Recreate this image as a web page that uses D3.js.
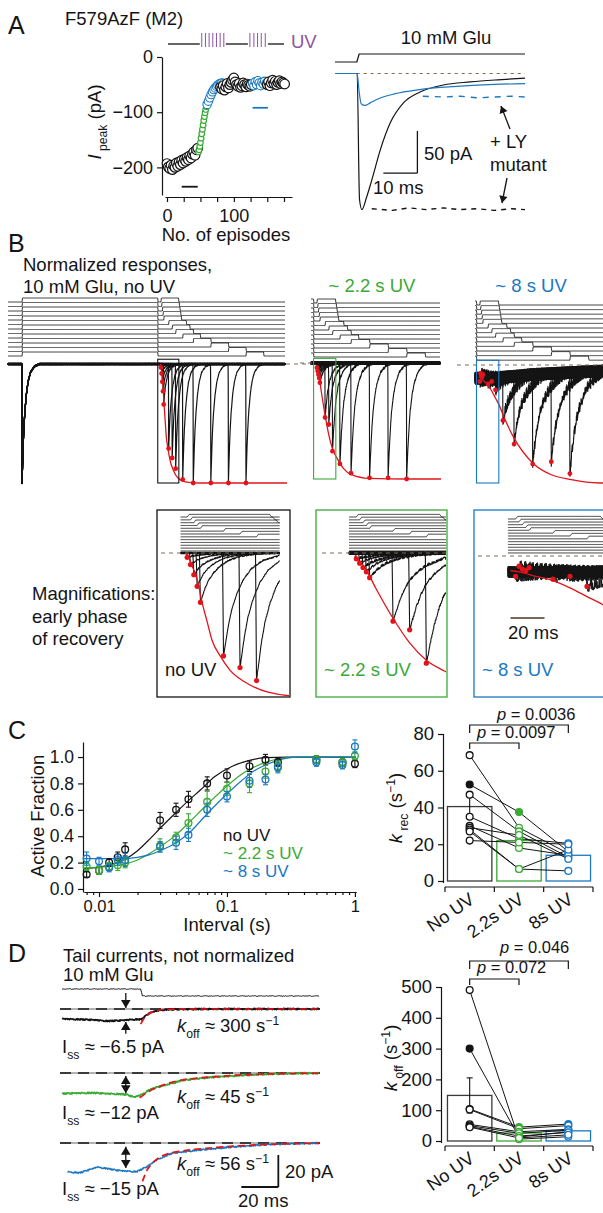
<!DOCTYPE html>
<html>
<head>
<meta charset="utf-8">
<script src="https://cdn.jsdelivr.net/npm/d3@7"></script>
<style>
  body { margin: 0; background: #fff; }
  svg { display: block; }
</style>
</head>
<body>
<svg id="fig" width="603" height="1213"></svg>
<script>
// colours
const INK = '#141414', GREEN = '#3aa935', BLUE = '#1a78c2', RED = '#e2141b',
      PURPLE = '#8e53a6', DASHC = '#7c6a5c', FONT = '"Liberation Sans", Arial, sans-serif';

// ---------- panel A, peak current per episode ----------
const blackPre  = [-193,-199,-202,-196,-204,-197,-200,-192,-198,-190,-195,-187,-192,-185,-189,-182,-186,-179,-183,-176,-172,-178,-168,-165]; // ep 0..46, step 2
const greenUV1  = [-172,-168,-162,-155,-147,-139,-131,-123,-115,-108,-101,-95,-90,-86,-82]; // ep 47..61
const blueUV1   = [-86,-80,-74,-68,-63,-59,-56,-53,-51,-49,-48,-47,-48]; // ep 60..84, step 2
const blackMid  = [-55,-58,-52,-60,-54,-48,-56,-50,-46,-42,-38,-45,-50,-53,-48,-55,-52,-47,-50,-54,-49,-51,-53,-50]; // ep 80..126
const blueUV2   = [-48,-52,-45,-50,-43,-47,-52,-46,-49,-44,-48,-51]; // ep 128..150
const blackPost = [-50,-45,-52,-47,-42,-48,-44,-50,-46,-43,-48,-45,-47,-49]; // ep 150..176
const uvOffSegments = [[1.5, 49], [88, 121], [151, 175]];
const uvTicks = [52, 57.5, 63, 68.5, 74, 79.5, 85, 124, 130, 135.5, 141, 147];
const peakTicks = [0, -100, -200];
const episodeTicks = [0, 25, 50, 75, 100, 125, 150, 175];

// panel A, example currents (ms, pA)
const traceNoUV  = [[-6.8,0],[-0.3,0],[0.4,-150],[1.1,-162],[2.5,-147],[4,-127],[6.5,-91],[9.4,-59],[13.3,-35],[18.2,-22],[25,-13.7],[33,-10],[41,-7.5],[49,-5.5]];
const traceUV    = [[-6.8,0],[-0.3,0],[0.3,-22],[0.9,-36],[2,-38],[3.5,-35],[6,-30],[10,-25],[15,-21],[20,-18],[30,-15],[40,-13],[49,-12]];
const traceUVLY  = [[19,-27],[25,-28],[30,-27],[35,-29],[40,-28],[45,-27],[49,-28]];
const traceLY    = [[4,-161],[10,-163],[15,-160],[20,-162],[25,-160],[30,-162],[35,-161],[40,-163],[45,-161],[49,-162]];
const gluStepA   = [[-6.8,0],[-0.4,0],[0.3,1],[49,1]];

// ---------- panel B, paired-pulse recovery ----------
const intervalsMs = [8, 10, 12, 14, 16, 30, 40, 50, 70, 100, 150, 200, 250];
const peakNoUV = [0.03, 0.08, 0.15, 0.23, 0.34, 0.71, 0.79, 0.88, 0.97, 1.0, 1.0, 1.0, 1.0];
const peakUV22 = [0.04, 0.07, 0.10, 0.13, 0.17, 0.47, 0.53, 0.76, 0.87, 0.95, 0.99, 0.99, 1.0];
const peakUV8  = [0.14, 0.07, 0.09, 0.10, 0.08, 0.16, 0.14, 0.21, 0.47, 0.67, 0.84, 0.82, 0.92];
const fitNoUV = [[7,0],[8.5,0.02],[11,0.09],[14,0.18],[17,0.34],[20,0.47],[23,0.6],[28,0.71],[34,0.81],[43,0.89],[57,0.96],[77,0.99],[120,1],[400,1]];
const fitUV22 = [[7,0.02],[10,0.06],[14,0.12],[20,0.25],[30,0.45],[40,0.62],[50,0.74],[62,0.82],[80,0.91],[100,0.96],[150,0.995],[250,1],[400,1]];
const fitUV8  = [[5,0.1],[10,0.11],[20,0.14],[30,0.17],[40,0.22],[50,0.28],[60,0.34],[70,0.42],[100,0.62],[150,0.83],[200,0.93],[250,0.97],[330,1],[400,1]];
const decayNoUV = [[0,1],[1.5,0.85],[3,0.7],[5,0.55],[8,0.4],[12,0.26],[17,0.15],[24,0.07],[35,0.02],[50,0]];
const decayUV22 = [[0,1],[2,0.85],[4,0.7],[7,0.53],[10,0.4],[15,0.27],[20,0.18],[30,0.08],[45,0.02],[60,0]];
const decayUV8  = [[0,1],[4,0.85],[8,0.7],[14,0.55],[20,0.43],[30,0.3],[45,0.17],[65,0.07],[90,0]];
const ssFlat = [[-500,0],[500,0]];
const ssUV8  = [[-500,0.12],[50,0.11],[150,0.08],[340,0.05]];
const noisePattern = [0.3,-0.8,0.5,0.1,-0.4,0.9,-0.2,-0.7,0.6,0.2,-0.9,0.4,0.0,-0.5,0.8,-0.3,0.7,-0.6,0.1,0.5,
                      -0.1,-0.8,0.3,0.9,-0.4,0.2,-0.7,0.6,-0.2,0.4,-0.9,0.1,0.7,-0.5,0.3,-0.1,0.8,-0.6,0.2,-0.3];

// ---------- panel C ----------
const intervalsS = [0.008,0.01,0.012,0.014,0.016,0.03,0.04,0.05,0.07,0.1,0.15,0.2,0.25,0.5,0.8,1.0];
const afNoUV = [0.11,0.14,0.20,0.24,0.30,0.52,0.60,0.68,0.80,0.86,0.93,0.98,0.96,0.98,0.96,0.95];
const afNoUVErr = [0.02,0.03,0.03,0.04,0.05,0.06,0.05,0.06,0.05,0.05,0.04,0.04,0.03,0.03,0.03,0.03];
const afUV22 = [0.17,0.14,0.17,0.18,0.20,0.33,0.39,0.50,0.66,0.76,0.80,0.89,0.93,0.98,0.96,1.01];
const afUV22Err = [0.03,0.03,0.03,0.04,0.04,0.05,0.04,0.07,0.08,0.05,0.07,0.05,0.04,0.03,0.03,0.03];
const afUV8 = [0.23,0.21,0.16,0.22,0.22,0.32,0.35,0.41,0.60,0.70,0.82,0.83,0.92,0.96,0.94,1.08];
const afUV8Err = [0.05,0.03,0.03,0.04,0.05,0.04,0.05,0.05,0.05,0.04,0.05,0.04,0.04,0.03,0.03,0.05];
const fitCNoUV = [[0.0076,0.155],[0.01,0.165],[0.013,0.19],[0.016,0.225],[0.02,0.29],[0.025,0.38],[0.03,0.46],[0.04,0.58],[0.05,0.67],[0.062,0.75],[0.08,0.85],[0.11,0.93],[0.15,0.975],[0.2,0.995],[0.3,1],[1.02,1]];
const fitCUV22 = [[0.0076,0.16],[0.01,0.165],[0.013,0.175],[0.016,0.19],[0.02,0.22],[0.025,0.27],[0.03,0.32],[0.04,0.41],[0.05,0.5],[0.07,0.64],[0.1,0.78],[0.13,0.87],[0.16,0.92],[0.2,0.96],[0.25,0.985],[0.35,1],[1.02,1]];
const fitCUV8 = [[0.0076,0.23],[0.015,0.23],[0.02,0.24],[0.025,0.26],[0.03,0.29],[0.04,0.35],[0.05,0.42],[0.07,0.57],[0.1,0.72],[0.13,0.82],[0.16,0.89],[0.2,0.94],[0.25,0.975],[0.35,1],[1.02,1]];
const afTicks = [0, 0.2, 0.4, 0.6, 0.8, 1.0];

const conditions = ['No UV', '2.2s UV', '8s UV'];
const krecMean = [40.5, 22, 14];
const krecErr  = [5.5, 3.5, 2];
const krecNoUV = [68.5, 52.5, 47, 35, 30, 29, 28, 27, 22];
const krecUV22 = [29, 37.5, 27, 23, 18, 25, 6.5, 6.5, 21];
const krecUV8  = [15, 16, 13, 20.5, 14, 12, 5.5, 17, 20];
const krecFilled = [1, 1, -1];
const krecTicks = [0, 20, 40, 60, 80];

// ---------- panel D ----------
const gluStepD = [[-43,1],[-0.3,1],[0.3,0],[96,0]];
const tailNoUV = [[-43,-6],[-35,-6.5],[-25,-6.8],[-18,-7.6],[-12,-7.2],[-6,-6.6],[0,-6.5],[2,-4.5],[4,-2.8],[6,-1.7],[9,-0.9],[13,-0.4],[20,-0.15],[40,0],[96,0]];
const tailUV22 = [[-43,-13],[-35,-12.5],[-25,-12.5],[-15,-13],[-8,-13.5],[-4,-15],[0,-13.5],[4,-10.8],[8,-9],[13,-7.5],[18,-6],[22,-4.6],[30,-3.5],[40,-2.5],[55,-1.4],[68,-0.7],[80,-0.3],[96,0]];
const tailUV8  = [[-40,-18],[-33.5,-18.7],[-24,-15],[-13.5,-17],[-2.7,-18],[2.7,-15],[8,-10.6],[16.8,-6.3],[31,-4.4],[49,-2.5],[70,-0.8],[96,0]];
const tailFitNoUV = [[-0.5,-9.5],[0,-8.5],[2,-5],[4,-3],[6,-1.8],[8,-1],[12,-0.3],[20,0],[96,0]];
const tailFitUV22 = [[-1,-15.5],[4,-11.5],[8,-9.2],[13,-7],[18,-5.4],[22,-4.4],[30,-3.2],[40,-2.3],[55,-1.2],[70,-0.6],[96,-0.2]];
const tailFitUV8  = [[0.5,-24],[3,-17],[6,-12.5],[9,-9.5],[13,-7.2],[17,-6],[25,-4.5],[35,-3.3],[50,-2],[70,-0.8],[96,-0.2]];

const koffMean = [148, 26, 33];
const koffErr  = [57, 7, 6];
const koffNoUV = [490, 300, 104, 102, 54, 50, 47, 45];
const koffUV22 = [6, 13, 45, 40, 30, 25, 16, 10];
const koffUV8  = [14, 30, 55, 50, 38, 35, 28, 20];
const koffFilled = [1, 2, 2];
const koffTicks = [0, 100, 200, 300, 400, 500];

// ---------- helpers ----------
const svg = d3.select('#fig').attr('font-family', FONT);
const interp = pts => d3.scaleLinear().domain(pts.map(p => p[0])).range(pts.map(p => p[1])).clamp(true);
const seq = (start, step, vals) => vals.map((v, i) => [start + i * step, v]);
const TXT = 18.5;

function label(g, x, y, parts, o = {}) {
  const size = o.size || TXT;
  const t = g.append('text').attr('x', x).attr('y', y)
    .attr('font-size', size).attr('fill', o.color || INK)
    .attr('text-anchor', o.anchor || 'start');
  if (o.rotate) t.attr('transform', `rotate(${o.rotate},${x},${y})`);
  if (typeof parts === 'string') parts = [{t: parts}];
  let shift = 0;
  parts.forEach(p => {
    const off = p.sub ? size * 0.3 : p.sup ? -size * 0.4 : 0;
    t.append('tspan').text(p.t)
      .attr('font-size', (p.sub || p.sup) ? size * 0.66 : size)
      .attr('font-style', p.i ? 'italic' : null)
      .attr('dy', off - shift);
    shift = off;
  });
  return t;
}

function seg(g, x1, y1, x2, y2, color, w, dash) {
  return g.append('line').attr('x1', x1).attr('y1', y1).attr('x2', x2).attr('y2', y2)
    .attr('stroke', color || INK).attr('stroke-width', w || 1.2)
    .attr('stroke-dasharray', dash || null);
}

function arrowHead(g, x, y, ang, s) {
  const w = s * 0.6;
  const bx = x - s * Math.cos(ang), by = y - s * Math.sin(ang);
  const px = -Math.sin(ang) * w, py = Math.cos(ang) * w;
  g.append('path').attr('d', `M${x},${y}L${bx + px},${by + py}L${bx - px},${by - py}Z`).attr('fill', INK);
}
function arrow(g, x1, y1, x2, y2, both, s) {
  seg(g, x1, y1, x2, y2, INK, 1.3);
  const a = Math.atan2(y2 - y1, x2 - x1);
  arrowHead(g, x2, y2, a, s || 7);
  if (both) arrowHead(g, x1, y1, a + Math.PI, s || 7);
}

function styleAxis(ax, size) {
  ax.attr('font-family', FONT).attr('font-size', size || 18);
  ax.selectAll('path, line').attr('stroke', INK).attr('stroke-width', 1.2);
  ax.selectAll('text').attr('fill', INK);
  return ax;
}

function path(g, pts, x, y, color, w, curve) {
  return g.append('path').datum(pts)
    .attr('d', d3.line().x(d => x(d[0])).y(d => y(d[1])).curve(curve || d3.curveLinear))
    .attr('fill', 'none').attr('stroke', color).attr('stroke-width', w || 1.2)
    .attr('stroke-linejoin', 'round');
}

// ================= PANEL A =================
const gA = svg.append('g');
label(svg, 8, 34, 'A', {size: 25});
label(gA, 65, 25, 'F579AzF (M2)');

const epX = d3.scaleLinear().domain([-3, 187]).range([165, 292]);
const pkY = d3.scaleLinear().domain([0, -250]).range([57, 195]);

uvOffSegments.forEach(s => seg(gA, epX(s[0]), 44, epX(s[1]), 44, INK, 1.3));
gA.append('g').selectAll('line').data(uvTicks).join('line')
  .attr('x1', d => epX(d)).attr('x2', d => epX(d)).attr('y1', 33).attr('y2', 47)
  .attr('stroke', PURPLE).attr('stroke-width', 1);
label(gA, 291, 48, 'UV', {color: PURPLE});

styleAxis(gA.append('g').attr('transform', 'translate(162,0)')
  .call(d3.axisLeft(pkY).tickValues(peakTicks).tickSize(5).tickSizeOuter(0).tickPadding(4)
    .tickFormat(d => d === 0 ? '0' : '\u2212' + Math.abs(d))));
styleAxis(gA.append('g').attr('transform', 'translate(0,197)')
  .call(d3.axisBottom(epX).tickValues(episodeTicks).tickSize(5).tickSizeOuter(0).tickPadding(7)
    .tickFormat(d => d % 100 === 0 ? d : '')));
label(gA, 226, 241, 'No. of episodes', {anchor: 'middle'});
label(gA, 101, 122, [{t: 'I', i: true}, {t: ' peak', sub: true}, {t: ' (pA)'}], {anchor: 'middle', rotate: -90});

function epCircles(data, color, r, w) {
  gA.append('g').selectAll('circle').data(data).join('circle')
    .attr('cx', d => epX(d[0])).attr('cy', d => pkY(d[1])).attr('r', r)
    .attr('fill', '#fff').attr('stroke', color).attr('stroke-width', w);
}
epCircles(seq(0, 2, blackPre), INK, 4.8, 1.2);
epCircles(seq(47, 1, greenUV1), GREEN, 2.8, 1.2);
epCircles(seq(60, 2, blueUV1), BLUE, 4.2, 1.1);
epCircles(seq(80, 2, blackMid), INK, 4.8, 1.2);
epCircles(seq(128, 2, blueUV2), BLUE, 4.2, 1.1);
epCircles(seq(150, 2, blackPost), INK, 4.8, 1.2);
seg(gA, epX(22), pkY(-235), epX(46), pkY(-235), INK, 1.8);
seg(gA, epX(128), pkY(-92), epX(151), pkY(-92), BLUE, 1.8);

// example currents
const tA = d3.scaleLinear().domain([-6.8, 49]).range([335, 525]);
const iA = d3.scaleLinear().domain([0, -100]).range([73.5, 157.5]);
const gluA = d3.scaleLinear().domain([0, 1]).range([62, 54]);
path(gA, gluStepA, tA, gluA, INK, 1.2);
label(gA, 446, 44, '10 mM Glu', {anchor: 'middle'});
seg(gA, tA(-6.6), iA(0), tA(49), iA(0), DASHC, 1.2, '3,4');
path(gA, traceNoUV, tA, iA, INK, 1.2, d3.curveMonotoneX);
path(gA, traceUV, tA, iA, BLUE, 1.2, d3.curveMonotoneX);
path(gA, traceUVLY, tA, iA, BLUE, 1.4).attr('stroke-dasharray', '6,6');
path(gA, traceLY, tA, iA, INK, 1.4).attr('stroke-dasharray', '5,5');
// scale bar 10 ms / 50 pA
seg(gA, tA(17.4), iA(-68.5), tA(17.4), iA(-118.5), INK, 1.3);
seg(gA, tA(7.4), iA(-118.5), tA(17.4), iA(-118.5), INK, 1.3);
label(gA, 424, 160, '50 pA');
label(gA, 373, 194, '10 ms');
label(gA, 490, 148, '+ LY');
label(gA, 490, 171, 'mutant');
arrow(gA, 510, 129, 501, 106, false, 7);
arrow(gA, 507, 178, 502, 203, false, 7);

// ================= PANEL B =================
const gB = svg.append('g');
label(svg, 8, 252, 'B', {size: 25});
label(gB, 23, 271, 'Normalized responses,');
label(gB, 23, 293, '10 mM Glu, no UV');
label(gB, 372, 292, '~ 2.2 s UV', {anchor: 'middle', color: GREEN});
label(gB, 531, 292, '~ 8 s UV', {anchor: 'middle', color: BLUE});

const PULSE_MS = 50, FIRST_ON = -387;
const bSets = [
  {peaks: peakNoUV, fitPts: fitNoUV, decay: interp(decayNoUV), ss: interp(ssFlat), noise: 0.006},
  {peaks: peakUV22, fitPts: fitUV22, decay: interp(decayUV22), ss: interp(ssFlat), noise: 0.012},
  {peaks: peakUV8,  fitPts: fitUV8,  decay: interp(decayUV8),  ss: interp(ssUV8),  noise: 0.055}
];

function traceValue(s, j, t) {
  const base = s.ss(t);
  let v = base;
  [[FIRST_ON, 1], [intervalsMs[j], s.peaks[j]]].forEach(([on, pk]) => {
    const d = t - on;
    if (d >= -0.6 && d < 0) v += (pk - base) * (d + 0.6) / 0.6;
    else if (d >= 0) v += (pk - base) * s.decay(d);
  });
  return v;
}
function makeTrace(s, j, t0, t1, dt, noiseAmp) {
  const pts = [];
  let k = 0;
  for (let t = t0; t <= t1 + 1e-9; t += dt, k++) {
    const n = noisePattern[(k * 3 + j * 11 + (k >> 4)) % noisePattern.length];
    pts.push([t, traceValue(s, j, t) + noiseAmp * n]);
  }
  return pts;
}
function cmdLevel(j, t) {
  const ramp = 1.2;
  const on = (a, b) => Math.max(0, Math.min(1, (t - a) / ramp)) - Math.max(0, Math.min(1, (t - b) / ramp));
  return on(FIRST_ON, -ramp) + on(intervalsMs[j], intervalsMs[j] + PULSE_MS);
}

function drawRecovery(g, s, cfg) {
  const x = cfg.x, y = cfg.y;
  const clipId = 'clip' + cfg.id;
  g.append('clipPath').attr('id', clipId).append('rect')
    .attr('x', cfg.clip[0]).attr('y', cfg.clip[1]).attr('width', cfg.clip[2]).attr('height', cfg.clip[3]);
  const inner = g.append('g').attr('clip-path', `url(#${clipId})`);
  // command steps
  intervalsMs.forEach((iv, j) => {
    const pts = [];
    for (let t = cfg.t0; t <= cfg.t1 + 1e-9; t += cfg.stepDt) pts.push([t, cmdLevel(j, t)]);
    const yy = d3.scaleLinear().domain([0, 1]).range([cfg.stepTop + j * cfg.stepGap, cfg.stepTop + j * cfg.stepGap - cfg.stepH]);
    path(inner, pts, x, yy, INK, 0.9);
  });
  // baseline
  seg(g, cfg.dash[0], y(0), cfg.dash[1], y(0), DASHC, 1.2, '4,4');
  // traces
  intervalsMs.forEach((iv, j) => {
    path(inner, makeTrace(s, j, cfg.t0, cfg.t1, cfg.dt, s.noise * cfg.noiseGain), x, y, INK, cfg.w || 1);
  });
  // fit and peaks
  path(inner, s.fitPts.filter(d => d[0] >= cfg.fit0), x, y, RED, 1.3, d3.curveMonotoneX);
  inner.append('g').selectAll('circle')
    .data(intervalsMs.map((iv, j) => [iv, s.peaks[j]]).filter(d => d[0] <= cfg.t1))
    .join('circle').attr('cx', d => x(d[0])).attr('cy', d => y(d[1])).attr('r', cfg.dotR).attr('fill', RED);
}

const bTop = [
  {id: 't0', x: d3.scaleLinear().domain([-427, 361]).range([8, 285]), y: d3.scaleLinear().domain([0, 1]).range([364, 483]),
   t0: -427, t1: 361, dt: 0.5, stepDt: 0.5, stepTop: 302, stepGap: 4.5, stepH: 4, clip: [6, 296, 281, 192],
   dash: [286, 314], fit0: 7, dotR: 2.4, noiseGain: 1, w: 1.2, box: INK},
  {id: 't1', x: d3.scaleLinear().domain([-8, 340]).range([311, 440]), y: d3.scaleLinear().domain([0, 1]).range([363, 479]),
   t0: -8, t1: 340, dt: 0.5, stepDt: 0.5, stepTop: 303, stepGap: 4.5, stepH: 4, clip: [310, 296, 131, 192],
   dash: [300, 312], fit0: 7, dotR: 2.4, noiseGain: 1, w: 1.1, box: GREEN},
  {id: 't2', x: d3.scaleLinear().domain([-5, 339]).range([475, 603]), y: d3.scaleLinear().domain([0, 1]).range([365, 483]),
   t0: -5, t1: 339, dt: 0.5, stepDt: 0.5, stepTop: 305, stepGap: 4.6, stepH: 4, clip: [474, 296, 130, 192],
   dash: [457, 603], fit0: 5, dotR: 2.4, noiseGain: 1, w: 1.1, box: BLUE}
];
const MAG_WINDOW = [-1, 59];
bTop.forEach((cfg, i) => {
  drawRecovery(gB, bSets[i], cfg);
  gB.append('rect').attr('x', cfg.x(MAG_WINDOW[0])).attr('y', cfg.y(-0.04))
    .attr('width', cfg.x(MAG_WINDOW[1]) - cfg.x(MAG_WINDOW[0])).attr('height', cfg.y(1.0) - cfg.y(-0.04))
    .attr('fill', 'none').attr('stroke', cfg.box).attr('stroke-width', 1.1);
});

// magnifications
label(gB, 32, 600, 'Magnifications:');
label(gB, 32, 623, 'early phase');
label(gB, 32, 645, 'of recovery');
const bMag = [
  {id: 'm0', x: d3.scaleLinear().domain([0, 60]).range([174, 273]), y: d3.scaleLinear().domain([0, 1]).range([553, 698]),
   t0: 4, t1: 64, dt: 0.2, stepDt: 0.2, stepTop: 517, stepGap: 2.83, stepH: 2.6, clip: [158, 511, 131, 185],
   dash: [161, 280], fit0: 7, dotR: 2.6, noiseGain: 0.8, w: 1.1, box: [157, 510, 133, 187], color: INK, text: 'no UV'},
  {id: 'm1', x: d3.scaleLinear().domain([0, 60]).range([343, 443]), y: d3.scaleLinear().domain([0, 1]).range([553, 698]),
   t0: 3.6, t1: 62, dt: 0.2, stepDt: 0.2, stepTop: 517, stepGap: 2.83, stepH: 2.6, clip: [317, 511, 129, 185],
   dash: [322, 446], fit0: 7, dotR: 2.6, noiseGain: 0.8, w: 1.1, box: [316, 510, 131, 187], color: GREEN, text: '~ 2.2 s UV'},
  {id: 'm2', x: d3.scaleLinear().domain([0, 60]).range([502, 604]), y: d3.scaleLinear().domain([0, 1]).range([556, 701]),
   t0: 3.5, t1: 61, dt: 0.2, stepDt: 0.2, stepTop: 519, stepGap: 2.83, stepH: 2.6, clip: [475, 511, 130, 185],
   dash: [478, 603], fit0: 5, dotR: 2.6, noiseGain: 0.8, w: 1, box: [474, 510, 140, 187], color: BLUE, text: '~ 8 s UV'}
];
bMag.forEach((cfg, i) => {
  drawRecovery(gB, bSets[i], cfg);
  gB.append('rect').attr('x', cfg.box[0]).attr('y', cfg.box[1]).attr('width', cfg.box[2]).attr('height', cfg.box[3])
    .attr('fill', 'none').attr('stroke', cfg.color).attr('stroke-width', 1.3);
  label(gB, cfg.box[0] + 8, 676, cfg.text, {color: cfg.color});
});
const m2 = bMag[2];
seg(gB, m2.x(5), 618, m2.x(25), 618, '#4a3527', 1.6);
label(gB, 508, 639, '20 ms');

// ================= PANEL C =================
const gC = svg.append('g');
label(svg, 8, 739, 'C', {size: 25});
const cX = d3.scaleLog().domain([0.00763, 1.02]).range([84, 356]);
const cY = d3.scaleLinear().domain([-0.023, 1.114]).range([892, 742]);
styleAxis(gC.append('g').attr('transform', 'translate(83,0)')
  .call(d3.axisLeft(cY).tickValues(afTicks).tickSize(5).tickSizeOuter(0).tickPadding(4).tickFormat(d3.format('.1f'))), 17.5);
const minorTicks = [0.008, 0.009, 0.02, 0.03, 0.04, 0.05, 0.06, 0.07, 0.08, 0.09, 0.2, 0.3, 0.4, 0.5, 0.6, 0.7, 0.8, 0.9];
styleAxis(gC.append('g').attr('transform', 'translate(0,892)')
  .call(d3.axisBottom(cX).tickValues(minorTicks).tickSize(3).tickSizeOuter(0).tickFormat('')));
styleAxis(gC.append('g').attr('transform', 'translate(0,892)')
  .call(d3.axisBottom(cX).tickValues([0.01, 0.1, 1]).tickSize(5).tickSizeOuter(0).tickPadding(3)
    .tickFormat(d => d === 1 ? '1' : String(d))), 16.5);
label(gC, 227, 931, 'Interval (s)', {anchor: 'middle'});
label(gC, 44, 816, 'Active Fraction', {anchor: 'middle', rotate: -90});

[[fitCNoUV, INK], [fitCUV22, GREEN], [fitCUV8, BLUE]].forEach(([pts, col]) =>
  path(gC, pts, cX, cY, col, 1.2, d3.curveMonotoneX));
[[afNoUV, afNoUVErr, INK], [afUV22, afUV22Err, GREEN], [afUV8, afUV8Err, BLUE]].forEach(([vals, errs, col]) => {
  const g = gC.append('g');
  intervalsS.forEach((s, i) => {
    const xx = cX(s);
    seg(g, xx, cY(vals[i] - errs[i]), xx, cY(vals[i] + errs[i]), col, 1.1);
    seg(g, xx - 2.5, cY(vals[i] + errs[i]), xx + 2.5, cY(vals[i] + errs[i]), col, 1.1);
    seg(g, xx - 2.5, cY(vals[i] - errs[i]), xx + 2.5, cY(vals[i] - errs[i]), col, 1.1);
  });
  g.selectAll('circle').data(vals).join('circle')
    .attr('cx', (d, i) => cX(intervalsS[i])).attr('cy', d => cY(d)).attr('r', 3.4)
    .attr('fill', 'none').attr('stroke', col).attr('stroke-width', 1.3);
});
label(gC, 223, 841, 'no UV', {size: 17});
label(gC, 223, 859, '~ 2.2 s UV', {size: 17, color: GREEN});
label(gC, 223, 877, '~ 8 s UV', {size: 17, color: BLUE});

// ================= bar panels =================
function barPanel(cfg) {
  const g = svg.append('g');
  const y = d3.scaleLinear().domain(cfg.domain).range(cfg.range);
  const band = d3.scaleBand().domain(conditions).range([445, 593]).paddingInner(0.1).paddingOuter(0.05);
  const cx = c => band(c) + band.bandwidth() / 2;
  const cols = [INK, GREEN, BLUE];
  styleAxis(g.append('g').attr('transform', `translate(${cfg.axisX},0)`)
    .call(d3.axisLeft(y).tickValues(cfg.ticks).tickSize(5).tickSizeOuter(0).tickPadding(4)), 18.5);
  g.select('.domain').attr('d', `M0.5,${cfg.range[1]}V${cfg.range[0] + 2}`);
  // x axis with ticks at band edges
  seg(g, 445, cfg.axisY, 593, cfg.axisY, INK, 1.2);
  [0, 1, 2, 3].forEach(k => {
    const xx = 445 + k * band.step();
    seg(g, xx, cfg.axisY, xx, cfg.axisY + 5, INK, 1.2);
  });
  conditions.forEach((c, k) => {
    g.append('rect').attr('x', band(c)).attr('y', y(cfg.mean[k])).attr('width', band.bandwidth())
      .attr('height', y(0) - y(cfg.mean[k])).attr('fill', 'none')
      .attr('stroke', k === 0 ? '#3a3a3a' : cols[k]).attr('stroke-width', 1.3);
    label(g, cx(c) + 6, cfg.axisY + 15, c, {anchor: 'end', rotate: -35, size: 18});
  });
  // paired lines
  const sets = cfg.points;
  sets[0].forEach((v, i) => {
    seg(g, cx(conditions[0]), y(sets[0][i]), cx(conditions[1]), y(sets[1][i]), INK, 1);
    seg(g, cx(conditions[1]), y(sets[1][i]), cx(conditions[2]), y(sets[2][i]), INK, 1);
  });
  conditions.forEach((c, k) => {
    const xx = cx(c), m = cfg.mean[k], e = cfg.err[k];
    seg(g, xx, y(m - e), xx, y(m + e), INK, 1.1);
    seg(g, xx - 3, y(m + e), xx + 3, y(m + e), INK, 1.1);
    seg(g, xx - 3, y(m - e), xx + 3, y(m - e), INK, 1.1);
    g.append('g').selectAll('circle').data(sets[k]).join('circle')
      .attr('cx', xx).attr('cy', d => y(d)).attr('r', 3.4)
      .attr('fill', (d, i) => i === cfg.filled[k] ? cols[k] : '#fff')
      .attr('stroke', cols[k]).attr('stroke-width', 1.3);
  });
  // significance brackets
  cfg.brackets.forEach(b => {
    const x1 = cx(conditions[b.from]), x2 = cx(conditions[b.to]);
    g.append('path').attr('d', `M${x1},${b.y + b.drop}V${b.y}H${x2}V${b.y + b.drop}`)
      .attr('fill', 'none').attr('stroke', INK).attr('stroke-width', 1.2);
    label(g, b.tx, b.ty, [{t: 'p', i: true}, {t: ' = ' + b.p}], {size: 16.5});
  });
  label(g, cfg.labelX, cfg.labelY, cfg.label, {anchor: 'middle', rotate: -90});
}

barPanel({domain: [0, 80], range: [881, 734], axisX: 443, axisY: 887, ticks: krecTicks,
  mean: krecMean, err: krecErr, points: [krecNoUV, krecUV22, krecUV8], filled: krecFilled,
  brackets: [{from: 0, to: 1, y: 743, drop: 6, p: '0.0097', tx: 477, ty: 738},
             {from: 0, to: 2, y: 725, drop: 8, p: '0.0036', tx: 497, ty: 720}],
  label: [{t: 'k', i: true}, {t: ' rec', sub: true}, {t: ' (s'}, {t: '\u22121', sup: true}, {t: ')'}],
  labelX: 402, labelY: 808});

// ================= PANEL D =================
const gD = svg.append('g');
label(svg, 8, 962, 'D', {size: 25});
label(gD, 63, 962, 'Tail currents, not normalized');
label(gD, 63, 981, '10 mM Glu');
const tD = d3.scaleLinear().domain([-43, 96]).range([62, 319]);
const gluD = d3.scaleLinear().domain([0, 1]).range([996, 989]);
const gluDpts = [];
for (let t = -43, k = 0; t <= 96; t += 0.5, k++) gluDpts.push([t, interp(gluStepD)(t) + 0.06 * noisePattern[(k * 7) % 40]]);
path(gD, gluDpts, tD, gluD, INK, 1);

const tails = [
  {trace: tailNoUV, fit: tailFitNoUV, base: 1009, col: INK, w: 1.7, noise: 0.45},
  {trace: tailUV22, fit: tailFitUV22, base: 1073, col: GREEN, w: 1.6, noise: 0.5},
  {trace: tailUV8,  fit: tailFitUV8,  base: 1143, col: BLUE, w: 1.4, noise: 0.5}
];
tails.forEach((tl, n) => {
  const y = d3.scaleLinear().domain([0, -30]).range([tl.base, tl.base + 48]);
  seg(gD, 60, tl.base, 320, tl.base, '#9a9a9a', 1.6);
  seg(gD, 60, tl.base, 320, tl.base, INK, 1.6, '11,7');
  const f = interp(tl.trace);
  const pts = [];
  const start = tl.trace[0][0];
  for (let t = start, k = 0; t <= 96; t += 0.25, k++) pts.push([t, f(t) + tl.noise * noisePattern[(k * 3 + n * 5 + (k >> 3)) % 40]]);
  path(gD, pts, tD, y, tl.col, tl.w);
  path(gD, tl.fit, tD, y, RED, 1.7, d3.curveMonotoneX).attr('stroke-dasharray', '7,4');
  tl.y = y;
});
const ax = tD(-8.5);
arrow(gD, ax, tails[0].y(10), ax, tails[0].y(0.6), false, 8);
arrow(gD, ax, tails[0].y(-15.5), ax, tails[0].y(-8.2), false, 8);
arrow(gD, ax, tails[1].y(-1.8), ax, tails[1].y(-12.6), true, 8);
arrow(gD, ax, tails[2].y(-2.4), ax, tails[2].y(-15.6), true, 8);

const koffTxt = v => [{t: 'k', i: true}, {t: 'off', sub: true}, {t: ' \u2248 ' + v + ' s'}, {t: '\u22121', sup: true}];
const issTxt = v => [{t: 'I'}, {t: 'ss', sub: true}, {t: ' \u2248 \u2212' + v + ' pA'}];
label(gD, 177, 1032, koffTxt(300));
label(gD, 62, 1053, issTxt('6.5'));
label(gD, 177, 1103, koffTxt(45));
label(gD, 62, 1119, issTxt('12'));
label(gD, 177, 1170, koffTxt(56));
label(gD, 62, 1195, issTxt('15'));
// scale bar 20 ms / 20 pA
const sbY = tails[2].y;
seg(gD, tD(74), sbY(-7.5), tD(74), sbY(-27.5), INK, 1.8);
seg(gD, tD(54), sbY(-27.5), tD(74), sbY(-27.5), INK, 1.8);
label(gD, 285, 1178, '20 pA');
label(gD, 238, 1207, '20 ms');

barPanel({domain: [0, 500], range: [1141, 987], axisX: 441, axisY: 1146, ticks: koffTicks,
  mean: koffMean, err: koffErr, points: [koffNoUV, koffUV22, koffUV8], filled: koffFilled,
  brackets: [{from: 0, to: 1, y: 979, drop: 6, p: '0.072', tx: 477, ty: 973},
             {from: 0, to: 2, y: 961, drop: 8, p: '0.046', tx: 500, ty: 953}],
  label: [{t: 'k', i: true}, {t: ' off', sub: true}, {t: ' (s'}, {t: '\u22121', sup: true}, {t: ')'}],
  labelX: 397, labelY: 1058});
</script>
</body>
</html>
